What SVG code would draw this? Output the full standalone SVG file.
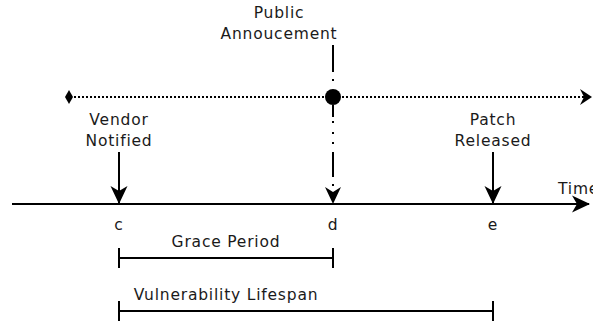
<svg xmlns="http://www.w3.org/2000/svg" width="593" height="323" viewBox="0 0 593 323">
<style>
text{font-family:"DejaVu Sans","Liberation Sans",sans-serif;font-size:15.5px;fill:#1a1a1a;text-anchor:middle;letter-spacing:0.8px}
.ln{stroke:#000;stroke-width:2;fill:none}
.dot{stroke:#000;stroke-width:2;fill:none;stroke-dasharray:2,2}
</style>
<defs>
<marker id="ah" markerUnits="userSpaceOnUse" viewBox="-20 -10 22 20" refX="0" refY="0" markerWidth="22" markerHeight="20" orient="auto" overflow="visible">
<path d="M1,0 L-17,-8.5 L-12,0 L-17,8.5 Z" fill="#000"/>
</marker>
</defs>
<g id="connectors">
<path class="dot" d="M70,97 H584"/>
<path d="M580,89 L592,97 L580,105 L584,97 Z" fill="#000"/>
<path d="M69,90 L73,97 L69,104 L65,97 Z" fill="#000"/>
<path class="ln" d="M12,204 H589" marker-end="url(#ah)"/>
<path class="ln" d="M119,152 V203" marker-end="url(#ah)"/>
<path class="ln" d="M493,152 V203" marker-end="url(#ah)"/>
<path class="ln" d="M333,45 V72 M333,79 V81 M333,105 V117 M333,121 V123 M333,132 V134 M333,142 V144 M333,152 V177 M333,184 V186"/>
<path d="M333,204 L325,187 L333,192 L341,187 Z" fill="#000"/>
<circle cx="333" cy="97" r="8" fill="#000"/>
</g>
<g id="public">
<text x="279" y="18">Public</text>
<text x="279" y="39">Annoucement</text>
</g>
<g id="vendor">
<text x="119" y="125">Vendor</text>
<text x="119" y="146">Notified</text>
</g>
<g id="patch">
<text x="493" y="125">Patch</text>
<text x="493" y="146">Released</text>
</g>
<g id="time"><text x="558" y="194" style="text-anchor:start">Time</text></g>
<g id="c"><text x="119" y="230">c</text></g>
<g id="d"><text x="333" y="230">d</text></g>
<g id="e"><text x="493" y="230">e</text></g>
<g id="grace">
<text x="226" y="247">Grace Period</text>
<path class="ln" d="M119,258 H333 M119,248 V268 M333,248 V268"/>
</g>
<g id="lifespan">
<text x="226" y="300">Vulnerability Lifespan</text>
<path class="ln" d="M119,311 H493 M119,301 V321 M493,301 V321"/>
</g>
</svg>
